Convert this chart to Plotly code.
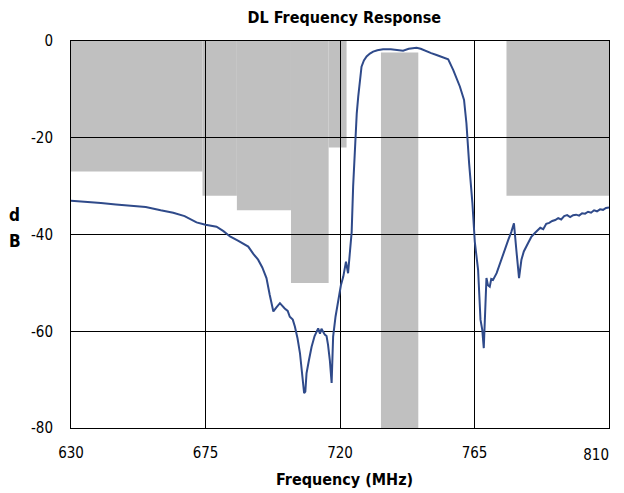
import plotly.graph_objects as go

# Measured response
freq_mhz = [630, 635, 640, 645, 650.8, 655, 660, 664.2, 668, 672, 675, 678.7, 681, 683.2, 686,
            689.3, 691, 692.6, 694, 695.4, 696.5, 697.7, 698.8, 699.9, 701.5, 702.5, 703.2, 704.2,
            704.9, 705.8, 706.6, 707.4, 708, 708.4, 708.8, 709.6, 710.5, 711.5, 712.7, 713.3, 713.8,
            714.9, 715.5, 716, 716.6, 717.2, 717.7, 718.5, 719.4, 720.3, 721.1, 722, 722.7, 723.3,
            723.9, 724.4, 725, 725.6, 726.1, 726.6, 727.2, 728, 728.9, 730, 731.1, 732.5, 734.4,
            737, 739, 741.1, 743, 745.6, 747, 748.9, 750.5, 752.3, 754, 756.2, 757.9, 759, 760.1,
            761.5, 762.3, 763.2, 764.3, 765.1, 766.2, 767, 767.6, 768.1, 768.5, 769, 769.5, 770.1,
            770.6, 771.2, 772.4, 773.2, 774, 775, 776.3, 777.3, 778.2, 779, 779.9, 780.7, 781.5,
            782.9, 784, 785.2, 786, 787, 788, 789, 790, 791, 792, 793, 794, 795, 796, 797, 798,
            799, 800, 801, 802, 803, 804, 805, 806, 807, 808, 809, 810]
gain_db = [-33, -33.2, -33.5, -33.8, -34.0, -34.3, -35, -35.5, -36.2, -37.5, -38, -38.4, -39.3, -40.4, -41.3,
           -42.5, -44, -45.2, -46.8, -49, -52.5, -55.9, -55, -54.2, -55.3, -55.8, -57, -57.6,
           -59, -61.5, -64.5, -69, -72.8, -72.5, -68.7, -66, -63.2, -61, -59.4, -60.5, -59.5,
           -60.7, -61, -62.8, -66, -70.7, -61.1, -57, -53.5, -50.5, -48.7, -45.6, -48, -44,
           -39.5, -30, -21, -15, -11.5, -8, -5.3, -4, -3.2, -2.6, -2.2, -1.9, -1.7,
           -1.7, -1.8, -2.0, -1.6, -1.4, -1.6, -2.0, -2.5, -2.9, -3.3, -3.8, -6, -7.8, -9.4,
           -12.2, -17, -25.3, -33.5, -41.5, -47.3, -57.6, -59.7, -63.5, -57.6, -49, -50.5, -50.8,
           -49.2, -49.4, -48, -46.5, -45.2, -43.5, -41.1, -39.5, -37.7, -43.2, -49, -45.2, -43.5,
           -41.8, -40.5, -39.7, -39.2, -38.6, -38.9, -37.8, -37.6, -37.2, -37.0, -36.6, -36.9, -36.2,
           -36.0, -36.4, -36.0, -35.9, -36.1, -35.6, -35.7, -35.3, -35.5, -35.0, -35.2, -34.8, -34.9,
           -34.5, -34.4]

# Specification mask regions
mask_start = [630, 674, 685.5, 703.6, 716.2, 733.7, 775.7]
mask_end = [674, 685.5, 703.6, 716.2, 722.2, 746.2, 810]
mask_top = [0, 0, 0, 0, 0, -2.4, 0]
mask_bottom = [-27, -32, -35, -50, -22, -80, -32]

x_ticks = [630, 675, 720, 765, 810]
x_tick_labels = ["630", "675", "720", "765", "810"]
y_ticks = [0, -20, -40, -60, -80]

FONT = "DejaVu Sans Condensed, Liberation Sans Narrow, Liberation Sans, Arial"

fig = go.Figure()
fig.add_trace(go.Scatter(x=freq_mhz, y=gain_db, mode="lines",
                         line=dict(color="#2F4A8A", width=2), showlegend=False,
                         hoverinfo="skip"))
# carrier for the overlay axis that holds the right-most tick label
fig.add_trace(go.Scatter(x=[x_ticks[-1]], y=[None], xaxis="x2", mode="lines",
                         showlegend=False, hoverinfo="skip"))

shapes = []
for x0, x1, y0, y1 in zip(mask_start, mask_end, mask_top, mask_bottom):
    shapes.append(dict(type="rect", xref="x", yref="y", x0=x0, x1=x1, y0=y0, y1=y1,
                       fillcolor="#C0C0C0", line=dict(width=0), layer="below"))

fig.update_layout(
    width=624, height=493,
    margin=dict(l=63, r=23, t=33, b=73, autoexpand=False),
    paper_bgcolor="white", plot_bgcolor="white",
    shapes=shapes,
    title=dict(text="<b>DL Frequency Response</b>", x=0.539, xanchor="center",
               y=0.981, yanchor="middle", font=dict(family=FONT, size=16, color="black")),
    font=dict(family=FONT, size=15, color="black"),
    xaxis=dict(range=[630, 810], tickvals=x_ticks, ticktext=x_tick_labels[:-1] + [""],
               showgrid=True, gridcolor="black", gridwidth=1, zeroline=False,
               showline=True, linecolor="black", linewidth=1, mirror=True, automargin=False,
               ticks="", ticklabelstandoff=11),
    xaxis2=dict(range=[630, 810], overlaying="x", side="bottom", anchor="y",
                tickvals=x_ticks[-1:], ticktext=x_tick_labels[-1:],
                ticklabelposition="outside left", ticklabelstandoff=16,
                showgrid=False, zeroline=False, showline=False, ticks="", automargin=False),
    yaxis=dict(range=[-80, 0], tickvals=y_ticks, ticktext=[str(v) for v in y_ticks],
               showgrid=True, gridcolor="black", gridwidth=1, zeroline=False,
               showline=True, linecolor="black", linewidth=1, mirror=True, automargin=False,
               ticks="", ticklabelstandoff=14),
    annotations=[
        dict(text="<b>d</b>", xref="paper", yref="paper", x=-0.105, y=0.550,
             xanchor="center", yanchor="middle", showarrow=False,
             font=dict(family=FONT, size=17, color="black")),
        dict(text="<b>B</b>", xref="paper", yref="paper", x=-0.105, y=0.483,
             xanchor="center", yanchor="middle", showarrow=False,
             font=dict(family=FONT, size=17, color="black")),
        dict(text="<b>Frequency (MHz)</b>", xref="paper", yref="paper", x=0.509, y=-0.132,
             xanchor="center", yanchor="middle", showarrow=False,
             font=dict(family=FONT, size=16, color="black")),
    ],
)

fig.write_html("out.html")
